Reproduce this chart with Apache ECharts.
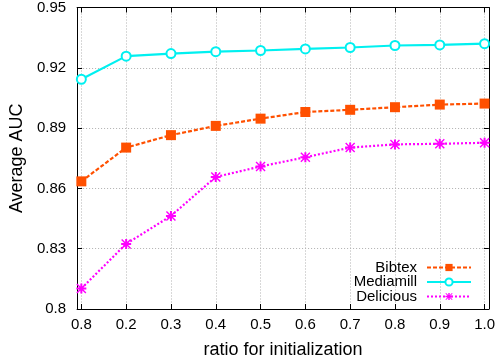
<!DOCTYPE html>
<html><head><meta charset="utf-8">
<script src="https://cdn.jsdelivr.net/npm/echarts@6/dist/echarts.min.js"></script>
<style>html,body{margin:0;padding:0;background:#fff}#c{width:498px;height:364px}</style>
</head><body><div id="c"></div>
<script>
const xLabels = ['0.8','0.2','0.3','0.4','0.5','0.6','0.7','0.8','0.9','1.0'];
const xPos = [1,2,3,4,5,6,7,8,9,10];
const yTicks = [0.8,0.83,0.86,0.89,0.92,0.95];
const bibtex = [0.8635,0.8803,0.8865,0.8911,0.8947,0.8980,0.8991,0.9004,0.9017,0.9022];
const mediamill = [0.9143,0.9258,0.9271,0.9280,0.9286,0.9294,0.9301,0.9311,0.9314,0.9320];
const delicious = [0.8102,0.8324,0.8463,0.8657,0.8709,0.8755,0.8803,0.8819,0.8822,0.8827];

const font = 'Liberation Sans, Arial, Helvetica, sans-serif';
const star = 'path://M0,4L10,4L10,6L0,6Z M4,0L6,0L6,10L4,10Z M1,0L10,9L9,10L0,1Z M9,0L10,1L1,10L0,9Z';
const pair = arr => arr.map((v,i)=>[xPos[i], v]);
const gridLine = {show:true, lineStyle:{color:'#b0b0b0', type:[1,2], width:1}};
const axLine = {show:true, lineStyle:{color:'#000', width:1}};

const chart = echarts.init(document.getElementById('c'), null, {renderer:'canvas'});
chart.setOption({
  animation:false,
  backgroundColor:'#fff',
  grid:{left:77, right:8, top:7.5, bottom:51.5, containLabel:false},
  xAxis:[{
    type:'value', min:0.905, max:10.095, position:'bottom',
    name:'ratio for initialization', nameLocation:'middle', nameGap:32,
    nameTextStyle:{fontFamily:font, fontSize:18, color:'#000'},
    axisLine:axLine,
    axisTick:{show:true, inside:true, length:5, customValues:xPos, lineStyle:{color:'#000'}},
    axisLabel:{show:true, customValues:xPos, fontFamily:font, fontSize:15, color:'#000', margin:8,
      formatter:v=>xLabels[Math.round(v)-1]},
    splitLine:gridLine
  },{
    type:'value', min:0.905, max:10.095, position:'top',
    axisLine:axLine,
    axisTick:{show:true, inside:true, length:5, customValues:xPos, lineStyle:{color:'#000'}},
    axisLabel:{show:false}, splitLine:{show:false}
  }],
  yAxis:[{
    type:'value', min:0.8, max:0.95, position:'left',
    name:'Average AUC', nameLocation:'middle', nameGap:43, nameRotate:90,
    nameTextStyle:{fontFamily:font, fontSize:18, color:'#000'},
    axisLine:axLine,
    axisTick:{show:true, inside:true, length:5, customValues:yTicks, lineStyle:{color:'#000'}},
    axisLabel:{show:true, customValues:yTicks, fontFamily:font, fontSize:15, color:'#000', margin:11,
      formatter:v=>String(+v.toFixed(2))},
    splitLine:gridLine
  },{
    type:'value', min:0.8, max:0.95, position:'right',
    axisLine:axLine,
    axisTick:{show:true, inside:true, length:5, customValues:yTicks, lineStyle:{color:'#000'}},
    axisLabel:{show:false}, splitLine:{show:false}
  }],
  legend:{
    orient:'vertical', right:26, top:260, align:'right', padding:0,
    itemWidth:44, itemHeight:9, itemGap:-0.5,
    textStyle:{fontFamily:font, fontSize:15, color:'#000', padding:[0,5,0,0]},
    data:['Bibtex','Mediamill','Delicious']
  },
  series:[{
    name:'Bibtex', type:'line', data:pair(bibtex),
    symbol:'rect', symbolSize:10,
    itemStyle:{color:'#ff5000'},
    lineStyle:{color:'#ff5000', width:2.2, type:[4,2]}
  },{
    name:'Mediamill', type:'line', data:pair(mediamill),
    symbol:'circle', symbolSize:9,
    itemStyle:{color:'#fff', borderColor:'#00f0f0', borderWidth:2},
    lineStyle:{color:'#00f0f0', width:2.2}
  },{
    name:'Delicious', type:'line', data:pair(delicious),
    symbol:star, symbolSize:10,
    itemStyle:{color:'#ff00ff'},
    lineStyle:{color:'#ff00ff', width:2.2, type:[2,2]}
  }]
});
</script></body></html>
